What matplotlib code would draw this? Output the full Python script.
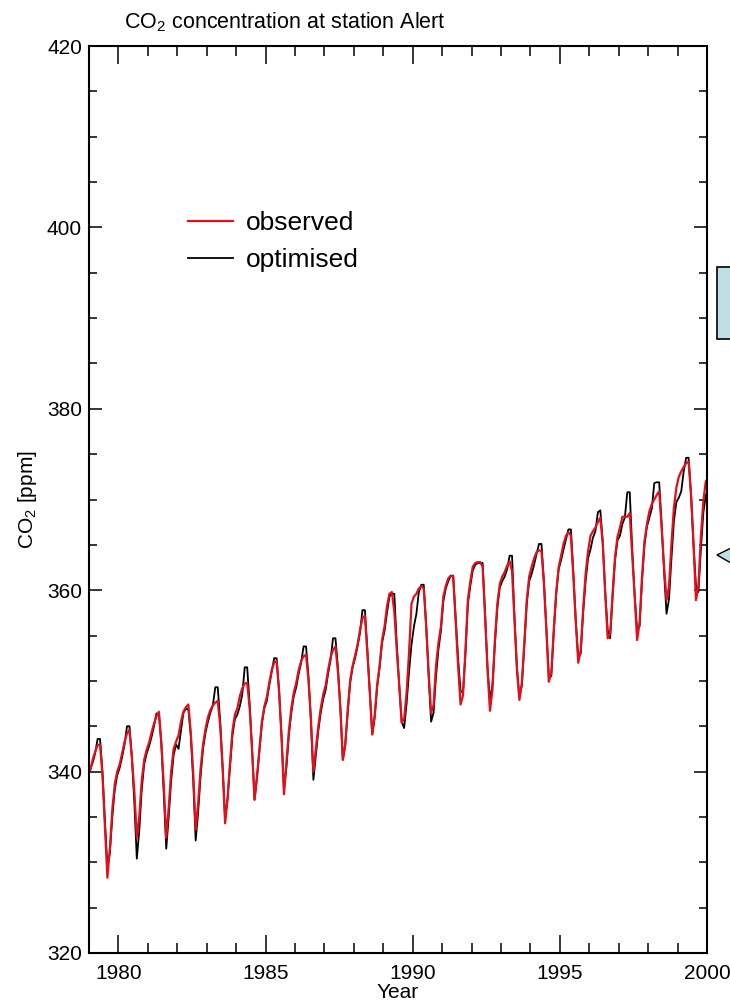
import numpy as np
from matplotlib import pyplot as plt
from matplotlib.patches import Rectangle, Polygon
from matplotlib.ticker import MultipleLocator

# monthly means (Jan..Dec), one row per year
years = list(range(1979, 2000))

observed = [
    [340.2, 341.3, 342.2, 342.9, 343.0, 339.5, 334.0, 328.3, 331.5, 335.8, 338.6, 340.0],  # 1979
    [340.8, 342.0, 343.3, 344.2, 344.6, 341.5, 337.8, 332.7, 335.0, 339.0, 341.3, 342.4],  # 1980
    [343.2, 344.3, 345.3, 346.1, 346.6, 343.2, 338.5, 332.7, 336.0, 340.0, 342.5, 343.3],  # 1981
    [344.0, 345.5, 346.6, 347.1, 347.4, 344.3, 339.8, 333.6, 336.5, 340.3, 343.0, 344.7],  # 1982
    [346.0, 346.8, 347.3, 347.6, 347.8, 345.0, 340.3, 334.3, 337.0, 341.0, 344.5, 346.3],  # 1983
    [347.0, 348.3, 349.2, 349.7, 349.8, 347.0, 342.3, 336.9, 339.5, 342.5, 345.5, 347.2],  # 1984
    [348.2, 349.8, 351.2, 352.0, 352.2, 348.8, 343.8, 337.5, 341.0, 344.5, 347.0, 348.7],  # 1985
    [349.8, 351.2, 352.2, 352.7, 352.9, 350.0, 345.8, 340.0, 342.5, 345.0, 347.0, 348.5],  # 1986
    [349.5, 351.2, 352.6, 353.4, 353.8, 351.0, 347.0, 341.3, 343.0, 346.9, 350.1, 351.7],  # 1987
    [352.8, 354.0, 355.6, 356.9, 357.2, 353.1, 348.7, 344.1, 346.2, 349.6, 351.7, 354.5],  # 1988
    [356.0, 358.2, 359.6, 359.8, 357.6, 353.4, 349.5, 345.4, 345.8, 348.7, 353.1, 358.5],  # 1989
    [359.3, 359.6, 360.2, 360.4, 360.2, 356.0, 350.9, 346.5, 347.3, 351.7, 354.2, 356.0],  # 1990
    [359.3, 360.5, 361.3, 361.6, 361.5, 356.7, 351.7, 347.4, 348.4, 353.4, 359.0, 361.0],  # 1991
    [362.6, 363.0, 363.1, 363.1, 362.6, 357.1, 351.2, 346.7, 349.0, 354.5, 358.5, 360.7],  # 1992
    [361.5, 362.0, 362.7, 363.2, 362.1, 356.7, 351.2, 347.9, 349.8, 354.2, 358.9, 361.5],  # 1993
    [362.6, 363.5, 364.2, 364.4, 364.3, 360.7, 355.6, 349.9, 350.9, 355.6, 359.8, 362.5],  # 1994
    [363.8, 365.1, 366.0, 366.4, 366.0, 361.5, 356.4, 352.0, 353.4, 358.0, 361.8, 364.3],  # 1995
    [366.0, 366.5, 366.9, 367.5, 368.0, 365.1, 359.6, 354.7, 355.2, 359.6, 363.7, 365.9],  # 1996
    [366.9, 368.1, 368.1, 368.1, 368.5, 364.0, 359.3, 354.5, 356.4, 361.5, 365.4, 367.3],  # 1997
    [368.7, 369.5, 370.0, 370.5, 370.9, 366.9, 362.6, 358.9, 360.4, 365.1, 369.1, 371.3],  # 1998
    [372.5, 373.1, 373.6, 374.0, 374.2, 370.5, 365.1, 358.9, 360.5, 365.9, 369.8, 372.0],  # 1999
]

optimised = [
    [340.2, 341.0, 342.0, 343.6, 343.6, 340.0, 334.5, 329.5, 331.0, 335.0, 338.0, 339.6],  # 1979
    [340.4, 341.6, 343.0, 345.0, 345.0, 341.5, 336.5, 330.4, 333.5, 338.0, 340.8, 342.0],  # 1980
    [342.8, 343.8, 345.0, 346.4, 346.4, 343.0, 337.5, 331.5, 335.0, 339.0, 341.8, 343.0],  # 1981
    [342.5, 344.5, 346.5, 346.9, 346.9, 344.0, 339.0, 332.4, 335.5, 339.5, 342.5, 344.3],  # 1982
    [345.5, 346.5, 347.3, 349.3, 349.3, 345.5, 340.5, 334.8, 337.0, 340.5, 344.0, 345.8],  # 1983
    [346.3, 347.2, 348.5, 351.5, 351.5, 347.5, 342.5, 336.9, 339.3, 342.3, 345.3, 347.0],  # 1984
    [347.8, 349.5, 351.0, 352.5, 352.5, 349.0, 344.0, 338.0, 340.5, 344.0, 346.5, 348.3],  # 1985
    [349.3, 350.8, 352.0, 353.8, 353.8, 350.5, 345.5, 339.1, 341.8, 344.5, 346.5, 348.0],  # 1986
    [349.0, 350.8, 352.3, 354.7, 354.7, 351.5, 347.0, 341.3, 343.0, 346.5, 349.8, 351.5],  # 1987
    [352.5, 353.8, 355.3, 357.8, 357.8, 353.5, 348.7, 344.1, 346.0, 349.3, 351.5, 354.2],  # 1988
    [355.5, 357.5, 359.3, 359.6, 359.6, 354.0, 349.5, 345.5, 344.8, 347.5, 351.0, 354.0],  # 1989
    [356.0, 357.4, 359.8, 360.6, 360.6, 356.0, 350.5, 345.5, 346.5, 350.5, 353.5, 355.5],  # 1990
    [358.8, 360.2, 361.0, 361.6, 361.6, 357.0, 352.5, 348.9, 348.7, 353.0, 358.5, 360.5],  # 1991
    [362.2, 362.8, 363.0, 363.0, 363.0, 357.5, 351.5, 347.9, 349.5, 354.0, 358.0, 360.3],  # 1992
    [361.0, 361.5, 362.3, 363.8, 363.8, 357.0, 351.5, 348.2, 349.5, 353.8, 358.5, 361.0],  # 1993
    [361.8, 362.8, 364.0, 365.1, 365.1, 361.0, 355.8, 350.6, 350.5, 355.3, 359.5, 362.3],  # 1994
    [363.3, 364.5, 365.6, 366.7, 366.7, 362.0, 356.6, 352.6, 353.0, 357.5, 361.0, 363.5],  # 1995
    [364.5, 365.8, 366.5, 368.6, 368.8, 365.3, 359.8, 355.6, 354.7, 359.3, 363.3, 365.5],  # 1996
    [366.0, 367.3, 368.0, 370.8, 370.8, 364.5, 359.5, 355.6, 356.0, 361.0, 365.0, 367.0],  # 1997
    [368.0, 369.0, 371.8, 371.9, 371.9, 367.3, 362.0, 357.4, 359.0, 363.5, 367.6, 369.7],  # 1998
    [370.2, 370.9, 373.1, 374.6, 374.6, 370.5, 365.0, 360.5, 359.8, 364.5, 368.5, 370.5],  # 1999
]

# January 2000 value, where the curves leave the frame
obs_jan2000 = 372.4
opt_jan2000 = 371.0

plt.rcParams['font.family'] = ['Liberation Sans', 'DejaVu Sans']
plt.rcParams['mathtext.fontset'] = 'custom'
plt.rcParams['mathtext.rm'] = 'Liberation Sans'


def monthly_series(rows, last):
    """
    flattens the per-year rows into a time axis (mid month) and values
    """
    t = [y + (m + 0.5) / 12. for y in years for m in range(12)]
    v = [val for row in rows for val in row]
    t.append(years[-1] + 1 + 0.5 / 12.)
    v.append(last)
    return np.array(t), np.array(v)


t_obs, co2_obs = monthly_series(observed, obs_jan2000)
t_opt, co2_opt = monthly_series(optimised, opt_jan2000)

fig = plt.figure(figsize=(7.30, 10.06), dpi=100)
ax = fig.add_axes([89/730., 1 - 953/1006., 618/730., 907/1006.])

ax.plot(t_opt, co2_opt, color='black', lw=1.3, label='optimised')
ax.plot(t_obs, co2_obs, color='#e3101c', lw=1.6, label='observed')

ax.set_xlim(1979, 2000)
ax.set_ylim(320, 420)
ax.xaxis.set_major_locator(MultipleLocator(5))
ax.xaxis.set_minor_locator(MultipleLocator(1))
ax.yaxis.set_major_locator(MultipleLocator(20))
ax.yaxis.set_minor_locator(MultipleLocator(5))

ax.tick_params(which='both', direction='in', top=True, right=True,
               width=1.1, labelsize=15)
ax.tick_params(axis='x', which='major', length=13, pad=8)
ax.tick_params(axis='x', which='minor', length=7)
ax.tick_params(axis='y', which='major', length=9.5, pad=5)
ax.tick_params(axis='y', which='minor', length=5.5)
for sp in ax.spines.values():
    sp.set_linewidth(1.5)

ax.set_xlabel('Year', fontsize=15, labelpad=0)
ax.set_ylabel(r'CO$_2$ [ppm]', fontsize=15, labelpad=6)

handles, labels = ax.get_legend_handles_labels()
ax.legend(handles[::-1], labels[::-1], loc='upper left', frameon=False,
          bbox_to_anchor=(0.16, 0.818), borderaxespad=0, borderpad=0,
          fontsize=19, handlelength=1.7, handletextpad=0.5,
          labelspacing=0.5)

fig.text(285/730., 1 - 22/1006., r'CO$_2$ concentration at station Alert',
         ha='center', va='center', fontsize=15.5)

# bits of the neighbouring panel, cut off at the right edge
fig.patches.append(Rectangle((717/730., 1 - 339/1006.), 30/730., 72/1006.,
                             transform=fig.transFigure, facecolor='#bfe0e3',
                             edgecolor='black', lw=1.2))
fig.patches.append(Polygon([(717/730., 1 - 555/1006.), (731/730., 1 - 548/1006.),
                            (731/730., 1 - 563/1006.)], closed=True,
                           transform=fig.transFigure, facecolor='#bfe0e3',
                           edgecolor='black', lw=1.0))

plt.savefig('out.png', dpi=100)
